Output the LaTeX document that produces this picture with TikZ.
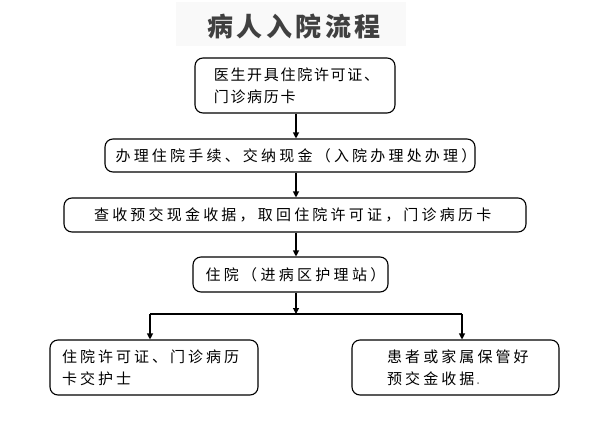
\documentclass[tikz,border=0pt]{standalone}
\usepackage{fontspec}
\usetikzlibrary{arrows.meta}
\newfontfamily\cjk{Noto Sans CJK SC}
\definecolor{titlegray}{HTML}{404040}
\definecolor{titlebg}{HTML}{F9F9F9}
% spread each character of #2 over a cell #1 wide
\def\spreadend{spreadend-marker}
\newcommand\spreadtext[2]{\def\spreadw{#1}\spreadloop#2\spreadend}
\def\spreadloop#1{\ifx#1\spreadend\else\makebox[\spreadw][c]{#1}\expandafter\spreadloop\fi}
\tikzset{
  box/.style={draw, line width=1.1pt, rounded corners=8pt, inner sep=0pt,
    align=left, font={\cjk\fontsize{15}{22}\selectfont}},
  arr/.style={-{Triangle[length=6pt,width=6pt]}, line width=1.1pt},
  ln/.style={line width=1.1pt}
}
\begin{document}
\begin{tikzpicture}[x=1pt,y=-1pt]
\useasboundingbox (0,0) rectangle (615,434);
\fill[titlebg] (176,2) rectangle (406,46);
\node[font={\cjk\bfseries\fontsize{26}{30}\selectfont}, text=titlegray, inner sep=0pt]
  (title) at (294,26) {\spreadtext{29.5pt}{病人入院流程}};

\node[box, text width=200pt, minimum height=55pt]
  (b1) at (295,85.5) {\hspace*{18pt}\spreadtext{16.7pt}{医生开具住院许可证、}\\
                      \hspace*{18pt}\spreadtext{16.7pt}{门诊病历卡}};
\node[box, text width=370pt, minimum height=33pt]
  (b2) at (290,155.5) {\hspace*{9pt}\spreadtext{18.2pt}{办理住院手续、交纳现金（入院办理处办理）}};
\node[box, text width=462pt, minimum height=34pt]
  (b3) at (295,215) {\hspace*{28.5pt}\spreadtext{18.2pt}{查收预交现金收据，取回住院许可证，门诊病历卡}};
\node[box, text width=195pt, minimum height=35pt]
  (b4) at (290.5,274.5) {\hspace*{11pt}\spreadtext{18.3pt}{住院（进病区护理站）}};
\node[box, text width=208pt, minimum height=55pt]
  (b5) at (154,367.5) {\hspace*{10.5pt}\spreadtext{18pt}{住院许可证、门诊病历}\\
                       \hspace*{10.5pt}\spreadtext{18pt}{卡交护士}};
\node[box, text width=207pt, minimum height=55pt]
  (b6) at (455.5,367.5) {\hspace*{33.5pt}\spreadtext{18.1pt}{患者或家属保管好}\\
                         \hspace*{33.5pt}\spreadtext{18.1pt}{预交金收据}{\color{black!45}.}};

\coordinate (sp) at (296,0);
\coordinate (j) at (296,314);
\coordinate (jl) at (150,314);
\coordinate (jr) at (462,314);

\draw[arr] (b1.south -| sp) -- (b2.north -| sp);
\draw[arr] (b2.south -| sp) -- (b3.north -| sp);
\draw[arr] (b3.south -| sp) -- (b4.north -| sp);
\draw[arr] (b4.south -| sp) -- (j);
\draw[ln] (jl) -- (jr);
\draw[arr] (jl) -- (jl |- b5.north);
\draw[arr] (jr) -- (jr |- b6.north);
\end{tikzpicture}
\end{document}
